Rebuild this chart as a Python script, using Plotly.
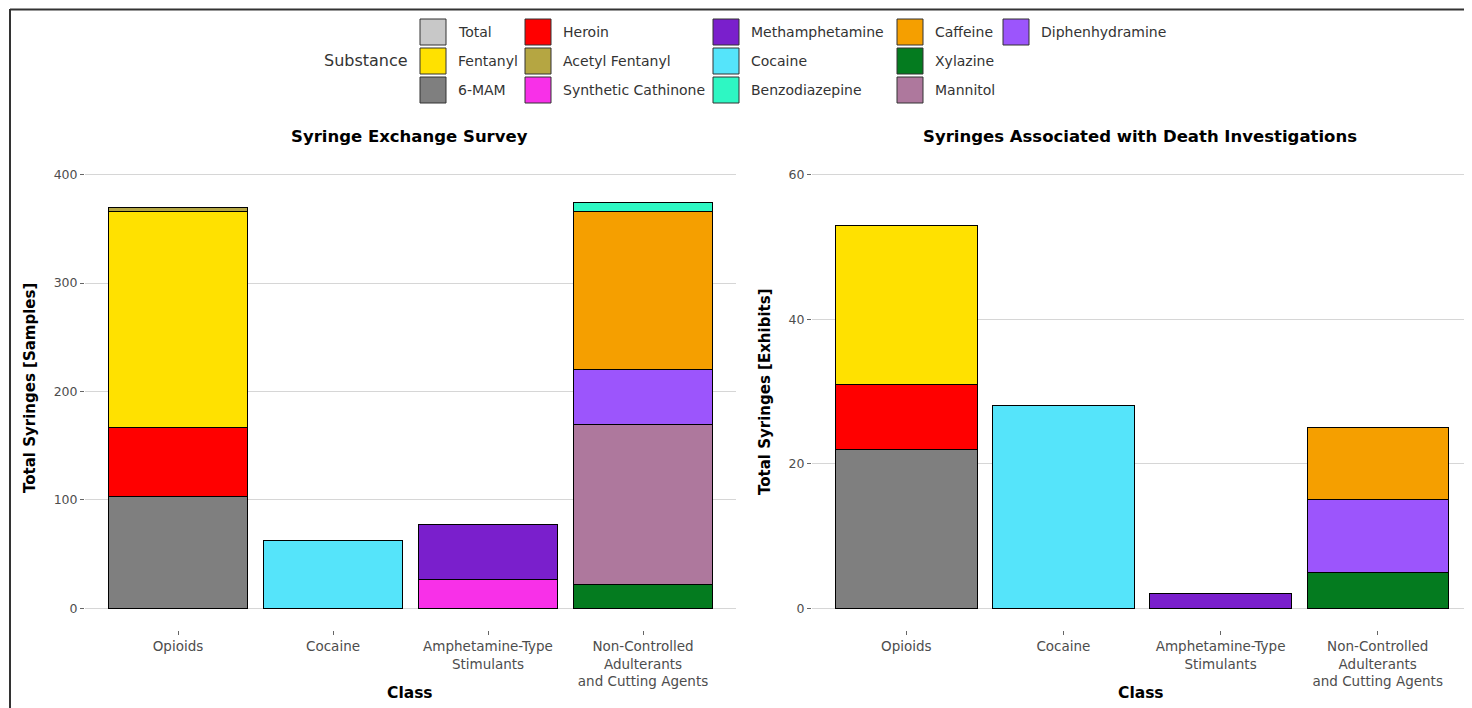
import plotly.graph_objects as go

W, H = 1472, 708
OFF = 8  # page body margin offset in the screenshot

classes = ["Opioids", "Cocaine", "Amphetamine-Type<br>Stimulants",
           "Non-Controlled<br>Adulterants<br>and Cutting Agents"]

# legend order (column-major, as in reference)
legend_substances = ["Total", "Fentanyl", "6-MAM",
                     "Heroin", "Acetyl Fentanyl", "Synthetic Cathinone",
                     "Methamphetamine", "Cocaine", "Benzodiazepine",
                     "Caffeine", "Xylazine", "Mannitol",
                     "Diphenhydramine"]
substance_colors = {
    "Total": "#c8c8c8", "Fentanyl": "#ffe100", "6-MAM": "#7f7f7f",
    "Heroin": "#ff0000", "Acetyl Fentanyl": "#b5a642", "Synthetic Cathinone": "#f830e8",
    "Methamphetamine": "#7a1fcc", "Cocaine": "#55e4fa", "Benzodiazepine": "#2ef7c3",
    "Caffeine": "#f59f00", "Xylazine": "#047b1f", "Mannitol": "#ae789d",
    "Diphenhydramine": "#9c55fc",
}

# stacking order (bottom to top)
stack_order = ["6-MAM", "Heroin", "Fentanyl", "Acetyl Fentanyl",
               "Synthetic Cathinone", "Methamphetamine", "Cocaine",
               "Xylazine", "Mannitol", "Diphenhydramine", "Caffeine", "Benzodiazepine"]

# Syringe Exchange Survey [Samples] per class
survey_6mam = [103, 0, 0, 0]
survey_heroin = [64, 0, 0, 0]
survey_fentanyl = [199, 0, 0, 0]
survey_acetyl_fentanyl = [4, 0, 0, 0]
survey_synthetic_cathinone = [0, 0, 27, 0]
survey_methamphetamine = [0, 0, 50, 0]
survey_cocaine = [0, 63, 0, 0]
survey_xylazine = [0, 0, 0, 22]
survey_mannitol = [0, 0, 0, 148]
survey_diphenhydramine = [0, 0, 0, 50]
survey_caffeine = [0, 0, 0, 146]
survey_benzodiazepine = [0, 0, 0, 8]

# Syringes Associated with Death Investigations [Exhibits]
death_6mam = [22, 0, 0, 0]
death_heroin = [9, 0, 0, 0]
death_fentanyl = [22, 0, 0, 0]
death_acetyl_fentanyl = [0, 0, 0, 0]
death_synthetic_cathinone = [0, 0, 0, 0]
death_methamphetamine = [0, 0, 2, 0]
death_cocaine = [0, 28, 0, 0]
death_xylazine = [0, 0, 0, 5]
death_mannitol = [0, 0, 0, 0]
death_diphenhydramine = [0, 0, 0, 10]
death_caffeine = [0, 0, 0, 10]
death_benzodiazepine = [0, 0, 0, 0]

survey_series = [survey_6mam, survey_heroin, survey_fentanyl, survey_acetyl_fentanyl,
                 survey_synthetic_cathinone, survey_methamphetamine, survey_cocaine,
                 survey_xylazine, survey_mannitol, survey_diphenhydramine,
                 survey_caffeine, survey_benzodiazepine]
death_series = [death_6mam, death_heroin, death_fentanyl, death_acetyl_fentanyl,
                death_synthetic_cathinone, death_methamphetamine, death_cocaine,
                death_xylazine, death_mannitol, death_diphenhydramine,
                death_caffeine, death_benzodiazepine]

survey_ticks = [0, 100, 200, 300, 400]
death_ticks = [0, 20, 40, 60]

FONT = "DejaVu Sans"
TICK_COLOR = "#4d4d4d"

fig = go.Figure()

def nz(vals):
    return [v if v else None for v in vals]

for name, vals in zip(stack_order, survey_series):
    fig.add_trace(go.Bar(x=classes, y=nz(vals), name=name, legendgroup=name,
                         marker=dict(color=substance_colors[name], line=dict(color="black", width=1)),
                         width=0.9, xaxis="x", yaxis="y", showlegend=False))
for name, vals in zip(stack_order, death_series):
    fig.add_trace(go.Bar(x=classes, y=nz(vals), name=name, legendgroup=name,
                         marker=dict(color=substance_colors[name], line=dict(color="black", width=1)),
                         width=0.9, xaxis="x2", yaxis="y2", showlegend=False))

def px_x(p):
    return (p - OFF) / W

def px_y(p):
    return 1 - (p - OFF) / H

ydom = [px_y(630), px_y(153)]
xdom1 = [px_x(85), px_x(736)]
xdom2 = [px_x(812), px_x(1472)]

def axis_common(size):
    return dict(showline=False, zeroline=False,
                tickfont=dict(family=FONT, size=size, color=TICK_COLOR),
                ticks="outside", ticklen=4, tickcolor="#666666", tickwidth=1)

fig.update_layout(
    width=W, height=H, barmode="stack", bargap=0.1,
    plot_bgcolor="white", paper_bgcolor="white",
    margin=dict(l=0, r=0, t=0, b=0),
    font=dict(family=FONT),
    showlegend=False,
    xaxis=dict(domain=xdom1, anchor="y", type="category", range=[-0.6, 3.6],
               showgrid=False, **axis_common(13.5)),
    yaxis=dict(domain=ydom, anchor="x", range=[-20, 420], tickvals=survey_ticks,
               showgrid=True, gridcolor="#d6d6d6", gridwidth=1, **axis_common(12.5)),
    xaxis2=dict(domain=xdom2, anchor="y2", type="category", range=[-0.6, 3.6],
                showgrid=False, **axis_common(13.5)),
    yaxis2=dict(domain=ydom, anchor="x2", range=[-3, 63], tickvals=death_ticks,
                showgrid=True, gridcolor="#d6d6d6", gridwidth=1, **axis_common(12.5)),
)

annotations = []
def ann(text, x, y, size, bold=False, color="black", xanchor="center", yanchor="middle", angle=0):
    annotations.append(dict(text=f"<b>{text}</b>" if bold else text, x=px_x(x), y=px_y(y),
                            xref="paper", yref="paper", showarrow=False,
                            xanchor=xanchor, yanchor=yanchor, textangle=angle,
                            font=dict(family=FONT, size=size, color=color)))

ann("Syringe Exchange Survey", 409, 136, 16.5, bold=True)
ann("Syringes Associated with Death Investigations", 1140, 136, 16.5, bold=True)
ann("Class", 410, 693, 15.5, bold=True)
ann("Class", 1141, 693, 15.5, bold=True)
ann("Total Syringes [Samples]", 30, 388, 15, bold=True, angle=-90)
ann("Total Syringes [Exhibits]", 765, 392, 15, bold=True, angle=-90)

# legend drawn as swatches + labels
shapes = []
col_x = [420, 525, 713, 897, 1003]
row_y = [19, 48, 77]
sw = 26
for i, name in enumerate(legend_substances):
    c, r = divmod(i, 3)
    x0, y0 = col_x[c], row_y[r]
    shapes.append(dict(type="rect", xref="paper", yref="paper",
                       x0=px_x(x0), x1=px_x(x0 + sw), y0=px_y(y0 + sw), y1=px_y(y0),
                       fillcolor=substance_colors[name], line=dict(color="#333333", width=1)))
    ann(name, x0 + sw + 10, y0 + sw / 2, 14, color="#333333", xanchor="left")
ann("Substance", 410, 61, 16, color="#333333", xanchor="right")

# outer frame (top and left edges of the screenshot border)
shapes.append(dict(type="line", xref="paper", yref="paper", x0=px_x(10), x1=px_x(W + OFF),
                   y0=px_y(9.5), y1=px_y(9.5), line=dict(color="#333333", width=2)))
shapes.append(dict(type="line", xref="paper", yref="paper", x0=px_x(10), x1=px_x(10),
                   y0=px_y(9), y1=px_y(H + OFF), line=dict(color="#333333", width=2)))

fig.update_layout(annotations=annotations, shapes=shapes)

fig.write_html("out.html")
